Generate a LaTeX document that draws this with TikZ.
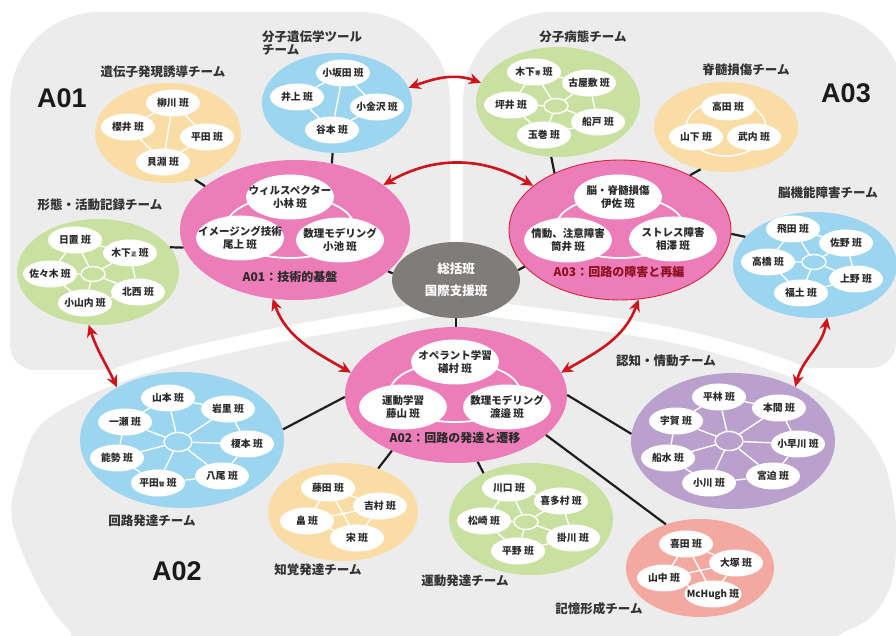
\documentclass[tikz,border=0pt]{standalone}
\usepackage{fontspec}
\setmainfont{Noto Sans CJK JP}
\newfontfamily\latf{Liberation Sans}
\usetikzlibrary{shapes.geometric,arrows.meta}
\pgfdeclarelayer{bgl}
\pgfdeclarelayer{tml}
\pgfdeclarelayer{lnl}
\pgfsetlayers{bgl,tml,lnl,main}
\definecolor{bgg}{HTML}{ECECEC}
\definecolor{pinkc}{HTML}{EC7DB9}
\definecolor{grayn}{HTML}{807C7A}
\definecolor{cblue}{HTML}{9BD5F0}
\definecolor{cgreen}{HTML}{C8E1A0}
\definecolor{corange}{HTML}{FADCA5}
\definecolor{cpurple}{HTML}{B9A0CD}
\definecolor{csalmon}{HTML}{F3A8A0}
\definecolor{arred}{HTML}{D0121B}
\definecolor{a3red}{HTML}{D7263D}
\definecolor{a3txt}{HTML}{8E1020}
\definecolor{txtc}{HTML}{2A2A2A}
\definecolor{tlc}{HTML}{333333}
\definecolor{lkc}{HTML}{1E1E1E}
\definecolor{bigc}{HTML}{1A1A1A}
\newcommand\mfnt{\fontsize{9.8}{11}\selectfont\bfseries}
\newcommand\ifnt{\fontsize{10.5}{13}\selectfont\bfseries}
\newcommand\tfnt{\fontsize{12.5}{13}\selectfont\bfseries}
\newcommand\smk[1]{{\fontsize{5.5}{6}\selectfont #1}}
\tikzset{
 tm/.style={ellipse, inner sep=0pt},
 mb/.style={ellipse, fill=white, inner xsep=-6pt, inner ysep=0pt, minimum width=54pt, minimum height=27pt, font=\mfnt, text=txtc},
 inn/.style={ellipse, fill=white, inner xsep=-20pt, inner ysep=-4pt, minimum width=88pt, minimum height=45pt, align=center, font=\ifnt, text=txtc},
 mainel/.style={ellipse, fill=pinkc, inner sep=0pt},
 rng/.style={ellipse, draw=white, line width=1.8pt, inner sep=0pt},
 hb/.style={ellipse, draw=white, line width=1.4pt, inner sep=0pt},
 wl/.style={draw=white, line width=1.4pt},
 lk/.style={draw=lkc, line width=2.2pt},
 rarr/.style={{Stealth[length=12pt,width=11pt]}-{Stealth[length=12pt,width=11pt]}, draw=arred, line width=2.6pt},
 tlab/.style={font=\tfnt, text=tlc, inner sep=0pt},
 ttl/.style={font=\fontsize{12}{14}\selectfont\bfseries, inner sep=0pt},
 big/.style={font=\latf\fontsize{27}{27}\selectfont\bfseries, text=bigc, inner sep=0pt},
}
\begin{document}
\begin{tikzpicture}[x=1pt,y=1pt]
\useasboundingbox (0,0) rectangle (896,636);
\clip (0,0) rectangle (896,636);
% ---------- background regions
\begin{pgfonlayer}{bgl}
\fill[bgg, rounded corners=90pt] (10,266) rectangle (450,624);
\fill[bgg, rounded corners=25pt] (10,266) rectangle (450,486);
\fill[bgg, rounded corners=90pt] (463,268) rectangle (905,624);
\fill[bgg, rounded corners=25pt] (463,268) rectangle (896,486);
\path[fill=white, draw=white, line width=30pt, line join=round]
  plot[smooth cycle, tension=0.55] coordinates {(120,-30) (70,5) (38,50) (12,116) (20,165) (45,215) (133,258) (267,291) (400,314) (456,322) (515,316) (673,293) (800,255) (855,215) (885,170) (896,110) (892,55) (872,20) (837,0) (790,-30)};
\fill[bgg]
  plot[smooth cycle, tension=0.55] coordinates {(120,-30) (70,5) (38,50) (12,116) (20,165) (45,215) (133,258) (267,291) (400,314) (456,322) (515,316) (673,293) (800,255) (855,215) (885,170) (896,110) (892,55) (872,20) (837,0) (790,-30)};
\end{pgfonlayer}
% ---------- big labels
\node[big] (A1) at (62,538) {A01};
\node[big] (A3) at (846,543) {A03};
\node[big] (A2) at (177,65) {A02};
% ---------- team / main ellipses
\begin{pgfonlayer}{tml}
\node[tm, fill=corange, minimum width=146pt, minimum height=100pt] (t1) at (168,503) {};
\node[tm, fill=cblue, minimum width=150pt, minimum height=100pt] (t2) at (337,533) {};
\node[tm, fill=cgreen, minimum width=162pt, minimum height=106pt] (t3) at (98,364) {};
\node[tm, fill=cgreen, minimum width=164pt, minimum height=110pt] (t4) at (558,534) {};
\node[tm, fill=corange, minimum width=144pt, minimum height=90pt] (t5) at (726,509) {};
\node[tm, fill=cblue, minimum width=164pt, minimum height=106pt] (t6) at (815,371) {};
\node[tm, fill=cblue, minimum width=204pt, minimum height=136pt] (t7) at (182,196) {};
\node[tm, fill=corange, minimum width=150pt, minimum height=98pt] (t8) at (343,124) {};
\node[tm, fill=cgreen, minimum width=164pt, minimum height=112pt] (t9) at (531,117) {};
\node[tm, fill=csalmon, minimum width=148pt, minimum height=98pt] (t10) at (700,68) {};
\node[tm, fill=cpurple, minimum width=204pt, minimum height=136pt] (t11) at (733,195) {};
\node[mainel, minimum width=230pt, minimum height=140pt] (a01) at (295,406) {};
\node[mainel, draw=a3red, line width=0.9pt, minimum width=222pt, minimum height=140pt] (a03) at (620,406) {};
\node[mainel, minimum width=222pt, minimum height=136pt] (a02) at (456,241) {};
\node[ellipse, fill=grayn, inner sep=0pt, minimum width=128pt, minimum height=76pt, text=white, align=center, font=\fontsize{12.5}{22}\selectfont\bfseries] (g) at (456,356) {総括班\\国際支援班};
\end{pgfonlayer}
% ---------- rings inside main ellipses
\begin{pgfonlayer}{lnl}
\node[rng, minimum width=128pt, minimum height=62pt] (r1) at (290,409) {};
\node[rng, minimum width=128pt, minimum height=62pt] (r3) at (620,409) {};
\node[rng, minimum width=130pt, minimum height=60pt] (r2) at (455,244) {};
\node[rng, line width=1.4pt, minimum width=80pt, minimum height=56pt] (r5) at (726,508) {};
\end{pgfonlayer}
% ---------- inner ellipses of main groups
\node[inn] (a01t) at (290,439) {ウィルスペクター\\小林 班};
\node[inn] (a01l) at (240,398) {イメージング技術\\尾上 班};
\node[inn] (a01r) at (340,396) {数理モデリング\\小池 班};
\node[ttl, text=txtc] (a01x) at (290,359) {A01：技術的基盤};
\node[inn] (a03t) at (618,439) {脳・脊髄損傷\\伊佐 班};
\node[inn] (a03l) at (568,396) {情動、注意障害\\筒井 班};
\node[inn] (a03r) at (673,397) {ストレス障害\\相澤 班};
\node[ttl, text=a3txt] (a03x) at (619,364) {A03：回路の障害と再編};
\node[inn] (a02t) at (455,274) {オペラント学習\\礒村 班};
\node[inn] (a02l) at (403,229) {運動学習\\藤山 班};
\node[inn] (a02r) at (507,229) {数理モデリング\\渡邉 班};
\node[ttl, text=txtc] (a02x) at (455,198) {A02：回路の発達と遷移};
% ---------- team labels
\node[tlab] (l1) at (163,564) {遺伝子発現誘導チーム};
\node[tlab, anchor=west, align=left] (l2) at (262,593) {分子遺伝学ツール\\チーム};
\node[tlab] (l3) at (100,431) {形態・活動記録チーム};
\node[tlab] (l4) at (583,599) {分子病態チーム};
\node[tlab] (l5) at (746,566) {脊髄損傷チーム};
\node[tlab] (l6) at (828,443) {脳機能障害チーム};
\node[tlab] (l7) at (152,115) {回路発達チーム};
\node[tlab] (l8) at (318,66) {知覚発達チーム};
\node[tlab] (l9) at (465,55) {運動発達チーム};
\node[tlab] (l10) at (599,27) {記憶形成チーム};
\node[tlab] (l11) at (666,275) {認知・情動チーム};
% ---------- members
\node[mb] (m1a) at (173,533) {柳川 班};
\node[mb] (m1b) at (128,509) {櫻井 班};
\node[mb] (m1c) at (207,499) {平田 班};
\node[mb] (m1d) at (163,474) {貝淵 班};
\node[mb] (m2a) at (343,563) {小坂田 班};
\node[mb] (m2b) at (297,539) {井上 班};
\node[mb] (m2c) at (377,529) {小金沢 班};
\node[mb] (m2d) at (332,506) {谷本 班};
\node[mb] (m3a) at (75,396) {日置 班};
\node[mb] (m3b) at (130,383) {木下\smk{正} 班};
\node[mb] (m3c) at (50,362) {佐々木 班};
\node[mb] (m3d) at (138,344) {北西 班};
\node[mb] (m3e) at (85,333) {小山内 班};
\node[mb] (m4a) at (534,564) {木下\smk{専} 班};
\node[mb] (m4b) at (589,553) {古屋敷 班};
\node[mb] (m4c) at (511,531) {坪井 班};
\node[mb] (m4d) at (598,514) {船戸 班};
\node[mb] (m4e) at (544,501) {玉巻 班};
\node[mb] (m5a) at (728,529) {高田 班};
\node[mb] (m5b) at (696,499) {山下 班};
\node[mb] (m5c) at (754,499) {武内 班};
\node[mb] (m6a) at (793,407) {飛田 班};
\node[mb] (m6b) at (846,393) {佐野 班};
\node[mb] (m6c) at (768,374) {高橋 班};
\node[mb] (m6d) at (856,357) {上野 班};
\node[mb] (m6e) at (801,343) {福土 班};
\node[mb] (m7a) at (168,238) {山本 班};
\node[mb] (m7b) at (228,227) {岩里 班};
\node[mb] (m7c) at (125,214) {一瀬 班};
\node[mb] (m7d) at (247,192) {榎本 班};
\node[mb] (m7e) at (117,178) {能勢 班};
\node[mb] (m7f) at (222,160) {八尾 班};
\node[mb] (m7g) at (158,153) {平田\smk{智} 班};
\node[mb] (m8a) at (328,148) {藤田 班};
\node[mb] (m8b) at (380,130) {吉村 班};
\node[mb] (m8c) at (307,115) {畠 班};
\node[mb] (m8d) at (357,98) {宋 班};
\node[mb] (m9a) at (509,148) {川口 班};
\node[mb] (m9b) at (561,135) {喜多村 班};
\node[mb] (m9c) at (484,115) {松崎 班};
\node[mb] (m9d) at (573,98) {掛川 班};
\node[mb] (m9e) at (518,85) {平野 班};
\node[mb] (m10a) at (686,92) {喜田 班};
\node[mb] (m10b) at (736,73) {大塚 班};
\node[mb] (m10c) at (664,58) {山中 班};
\node[mb] (m10d) at (713,42) {McHugh 班};
\node[mb] (m11a) at (719,239) {平林 班};
\node[mb] (m11b) at (779,228) {本間 班};
\node[mb] (m11c) at (676,215) {宇賀 班};
\node[mb] (m11d) at (798,192) {小早川 班};
\node[mb] (m11e) at (668,178) {船水 班};
\node[mb] (m11f) at (773,160) {宮迫 班};
\node[mb] (m11g) at (709,153) {小川 班};
% ---------- white inner lines and hubs
\begin{pgfonlayer}{lnl}
\node[hb, minimum width=24pt, minimum height=15pt] (h3) at (93,362) {};
\node[hb, minimum width=24pt, minimum height=15pt] (h4) at (556,530) {};
\node[hb, minimum width=24pt, minimum height=15pt] (h6) at (814,374) {};
\node[hb, minimum width=28pt, minimum height=19pt] (h7) at (178,194) {};
\node[hb, minimum width=24pt, minimum height=15pt] (h9) at (526,114) {};
\node[hb, minimum width=28pt, minimum height=19pt] (h11) at (729,195) {};
\draw[wl] (m1a)--(m1b) (m1b)--(m1d) (m1d)--(m1c) (m1c)--(m1a) (m1a)--(m1d);
\draw[wl] (m2a)--(m2b) (m2b)--(m2d) (m2d)--(m2c) (m2c)--(m2a) (m2a)--(m2d);
\draw[wl] (m3a)--(m3b) (m3b)--(m3d) (m3d)--(m3e) (m3e)--(m3c) (m3c)--(m3a);
\draw[wl] (h3)--(m3a) (h3)--(m3b) (h3)--(m3c) (h3)--(m3d) (h3)--(m3e);
\draw[wl] (m4a)--(m4b) (m4b)--(m4d) (m4d)--(m4e) (m4e)--(m4c) (m4c)--(m4a);
\draw[wl] (h4)--(m4a) (h4)--(m4b) (h4)--(m4c) (h4)--(m4d) (h4)--(m4e);
\draw[wl] (m6a)--(m6b) (m6b)--(m6d) (m6d)--(m6e) (m6e)--(m6c) (m6c)--(m6a);
\draw[wl] (h6)--(m6a) (h6)--(m6b) (h6)--(m6c) (h6)--(m6d) (h6)--(m6e);
\draw[wl] (m7a)--(m7b) (m7b)--(m7d) (m7d)--(m7f) (m7f)--(m7g) (m7g)--(m7e) (m7e)--(m7c) (m7c)--(m7a);
\draw[wl] (h7)--(m7a) (h7)--(m7b) (h7)--(m7c) (h7)--(m7d) (h7)--(m7e) (h7)--(m7f) (h7)--(m7g);
\draw[wl] (m8a)--(m8b) (m8b)--(m8d) (m8d)--(m8c) (m8c)--(m8a) (m8a)--(m8d) (m8c)--(m8b);
\draw[wl] (m9a)--(m9b) (m9b)--(m9d) (m9d)--(m9e) (m9e)--(m9c) (m9c)--(m9a);
\draw[wl] (h9)--(m9a) (h9)--(m9b) (h9)--(m9c) (h9)--(m9d) (h9)--(m9e);
\draw[wl] (m10a)--(m10b) (m10b)--(m10d) (m10d)--(m10c) (m10c)--(m10a) (m10a)--(m10d) (m10c)--(m10b);
\draw[wl] (m11a)--(m11b) (m11b)--(m11d) (m11d)--(m11f) (m11f)--(m11g) (m11g)--(m11e) (m11e)--(m11c) (m11c)--(m11a);
\draw[wl] (h11)--(m11a) (h11)--(m11b) (h11)--(m11c) (h11)--(m11d) (h11)--(m11e) (h11)--(m11f) (h11)--(m11g);
\end{pgfonlayer}
% ---------- black connectors
\draw[lk] (t1.-60) -- (a01.154);
\draw[lk] (t2.265) -- (a01.61);
\draw[lk] (t3.19) -- (a01.189);
\draw[lk] (t4.263) -- (a03.139);
\draw[lk] (t5.239) -- (a03.38);
\draw[lk] (t6.158) -- (a03.-2);
\draw[lk] (t7.6) -- (a02.181);
\draw[lk] (t8.51) -- (a02.221);
\draw[lk] (t9.136) -- (a02.288);
\draw[lk] (t10.128) -- (a02.-24);
\draw[lk] (t11.176) -- (a02.0);
\draw[lk] (g.174) -- (a01.-24);
\draw[lk] (g.9) -- (a03.201);
\draw[lk] (g.south) -- (a02.north);
% ---------- red double arrows
\draw[rarr] (t2.12) to[out=20,in=160] (t4.166);
\draw[rarr] (a01.27) to[out=30,in=150] (a03.153);
\draw[rarr] (a01.252) to[out=-70,in=150] (a02.168);
\draw[rarr] (a03.285) to[out=-110,in=30] (a02.12);
\draw[rarr] (t3.260) to[out=-72,in=115] (t7.141);
\draw[rarr] (t6.283) to[out=-100,in=75] (t11.41);
\end{tikzpicture}
\end{document}
